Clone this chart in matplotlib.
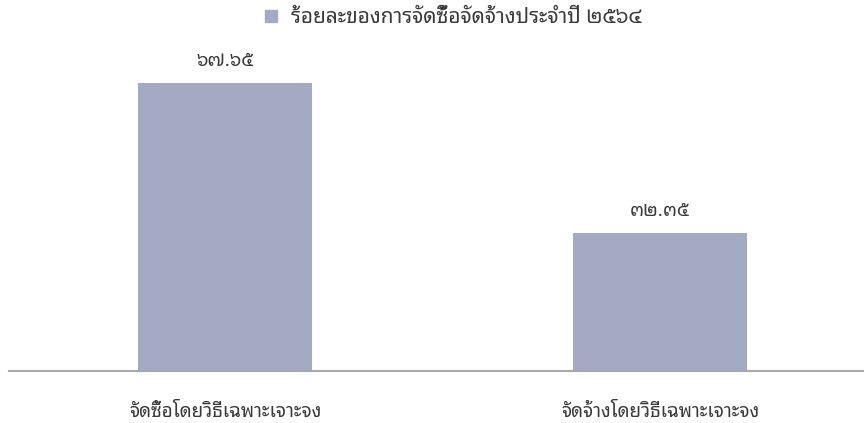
import matplotlib
matplotlib.use('Agg')
import matplotlib.pyplot as plt
from matplotlib.patches import Patch

plt.rcParams['font.family'] = ['Noto Sans Thai Looped', 'DejaVu Sans']

categories = ['จัดซื้อโดยวิธีเฉพาะเจาะจง', 'จัดจ้างโดยวิธีเฉพาะเจาะจง']
values = [67.65, 32.35]
series_name = 'ร้อยละของการจัดซื้อจัดจ้างประจำปี ๒๕๖๔'

thai_digits = str.maketrans('0123456789', '๐๑๒๓๔๕๖๗๘๙')
bar_color = '#a5aac4'
text_color = '#3a3a3a'

fig = plt.figure(figsize=(8.64, 4.23), dpi=100)
ax = fig.add_axes([9/864, (423-371)/423, (864-9)/864, 341/423])

x = range(len(categories))
bars = ax.bar(x, values, width=0.402, color=bar_color, zorder=2)

for b, v in zip(bars, values):
    ax.text(b.get_x() + b.get_width()/2, v + 3.0, ('%.2f' % v).translate(thai_digits),
            ha='center', va='bottom', fontsize=13.5, color=text_color)

ax.set_xlim(-0.4966, 1.469)
ax.set_ylim(0, 80)
ax.set_xticks(list(x))
ax.set_xticklabels(categories, fontsize=13.5, color=text_color)
ax.tick_params(axis='x', length=0, pad=23)
ax.set_yticks([])
for s in ['top', 'right', 'left']:
    ax.spines[s].set_visible(False)
ax.spines['bottom'].set_color('#a8a8a8')
ax.spines['bottom'].set_linewidth(1.5)

fig.legend(handles=[Patch(color=bar_color, label=series_name)], loc='center',
           bbox_to_anchor=(0.525, 0.958), frameon=False, fontsize=15,
           handlelength=0.55, handleheight=0.55, handletextpad=0.7,
           labelcolor=text_color)

fig.savefig('out.png')
